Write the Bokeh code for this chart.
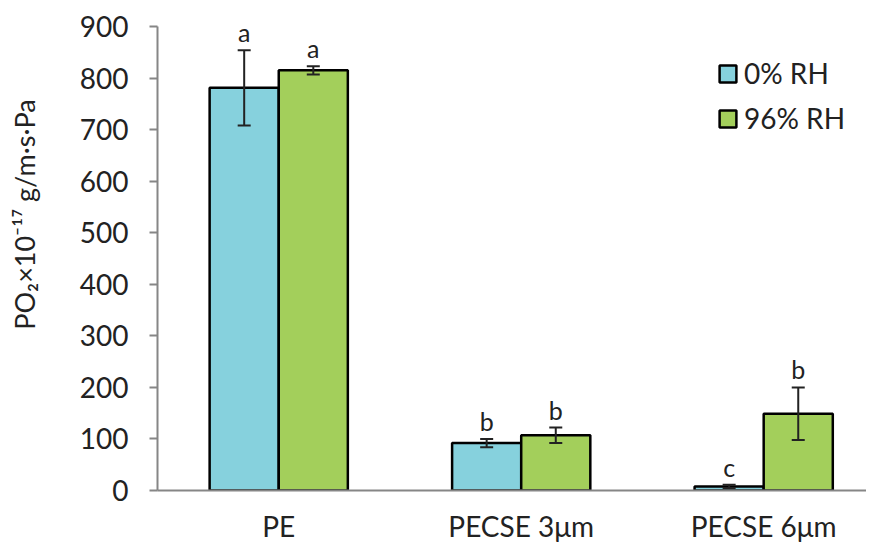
from bokeh.plotting import figure
from bokeh.models import (Range1d, ColumnDataSource, Whisker, TeeHead, FixedTicker,
                          Label, Legend, LegendItem)
from bokeh.core.properties import value
from bokeh.embed import file_html
from bokeh.resources import INLINE

categories = ["PE", "PECSE 3\u03bcm", "PECSE 6\u03bcm"]
series = ["0% RH", "96% RH"]
vals_0 = [781, 92, 8]
err_0 = [73, 8, 3]
vals_96 = [815, 107, 149]
err_96 = [8, 15, 51]
letters_0 = ["a", "b", "c"]
letters_96 = ["a", "b", "b"]
y_ticks = [0, 100, 200, 300, 400, 500, 600, 700, 800, 900]

FONT = "Lato"
TXT = "#222222"
colors = ["#86d1dd", "#a3cf5b"]
bar_w = 0.285
off = bar_w / 2

p = figure(frame_width=709, frame_height=464, output_backend="svg", toolbar_location=None,
           x_range=Range1d(-0.5, 2.424), y_range=Range1d(0, 900),
           min_border_left=157, min_border_right=0, min_border_top=26, min_border_bottom=48)
p.outline_line_color = None
p.grid.visible = False
p.background_fill_color = "white"

xs = list(range(len(categories)))
groups = [(vals_0, err_0, letters_0, -off), (vals_96, err_96, letters_96, off)]
renderers = []
for (vals, errs, lets, dx), col in zip(groups, colors):
    x = [i + dx for i in xs]
    src = ColumnDataSource(dict(x=x, top=vals, upper=[v + e for v, e in zip(vals, errs)],
                                lower=[v - e for v, e in zip(vals, errs)], lab=lets))
    r = p.vbar(x="x", top="top", width=bar_w, bottom=0, source=src, fill_color=col,
               line_color="black", line_width=2.5)
    renderers.append(r)
    w = Whisker(base="x", upper="upper", lower="lower", source=src, line_color=TXT,
                line_width=2, level="overlay",
                upper_head=TeeHead(size=13, line_color=TXT, line_width=2),
                lower_head=TeeHead(size=13, line_color=TXT, line_width=2))
    p.add_layout(w)
    p.text(x="x", y="upper", text="lab", source=src, text_align="center",
           text_baseline="bottom", y_offset=-3, text_font=value(FONT),
           text_font_size="25px", text_color=TXT)

# axes
p.yaxis.ticker = FixedTicker(ticks=y_ticks)
p.yaxis.axis_line_color = "#868686"
p.yaxis.axis_line_width = 2
p.yaxis.major_tick_line_color = "#868686"
p.yaxis.major_tick_line_width = 2
p.yaxis.major_tick_out = 8
p.yaxis.major_tick_in = 0
p.yaxis.minor_tick_line_color = None
p.yaxis.major_label_text_font = FONT
p.yaxis.major_label_text_font_size = "28px"
p.yaxis.major_label_text_color = TXT
p.yaxis.major_label_standoff = 21

p.xaxis.ticker = FixedTicker(ticks=xs)
p.xaxis.major_label_overrides = {i: c for i, c in enumerate(categories)}
p.xaxis.axis_line_color = "#868686"
p.xaxis.axis_line_width = 2
p.xaxis.major_tick_line_color = None
p.xaxis.minor_tick_line_color = None
p.xaxis.major_label_text_font = FONT
p.xaxis.major_label_text_font_size = "28px"
p.xaxis.major_label_text_color = TXT
p.xaxis.major_label_standoff = 12

ylab = Label(x=-19, y=276, x_units="screen", y_units="screen",
             text="PO\u2082\u00d710\u207b\u00b9\u2077 g/m\u00b7s\u00b7Pa", angle=1.5708,
             text_align="center", text_baseline="middle", text_font=FONT,
             text_font_size="27px", text_color=TXT)
p.add_layout(ylab, "left")

legend = Legend(items=[LegendItem(label=s, renderers=[r]) for s, r in zip(series, renderers)],
                location=(560, 355), border_line_color=None, background_fill_alpha=0,
                label_text_font=FONT, label_text_font_size="28px", label_text_color=TXT,
                glyph_width=21, glyph_height=21, spacing=11, label_standoff=6)
p.add_layout(legend, "center")

open("out.html", "w").write(file_html(p, INLINE))
